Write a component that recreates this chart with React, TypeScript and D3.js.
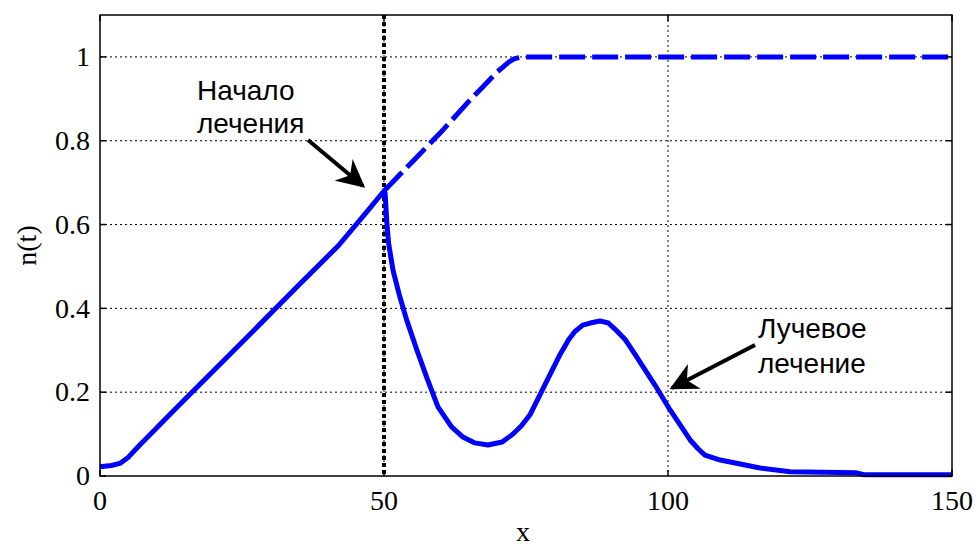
import React from "react";
import * as d3 from "d3";

// solid curve: n(t) with radiation treatment starting at x = 50
const xSolid = [0, 2, 3.5, 5, 7, 10, 14, 21, 28, 35, 42, 47, 50, 50.2, 50.5, 50.8, 51.6, 52.8, 54, 55.8, 57.7, 59.5, 61.9, 63.9, 66, 68.3, 70.8, 72.7, 74.2, 75.7, 78.3, 81, 82.5, 83.6, 85, 86.3, 88, 89.5, 90.7, 92.5, 94.2, 97.7, 100.4, 103.9, 105.3, 106.5, 109.2, 116.2, 121.5, 133, 134.5, 150];
const ySolid = [0.022, 0.025, 0.03, 0.045, 0.074, 0.115, 0.17, 0.265, 0.36, 0.456, 0.55, 0.631, 0.68, 0.675, 0.604, 0.556, 0.49, 0.427, 0.372, 0.3, 0.229, 0.165, 0.117, 0.093, 0.079, 0.074, 0.081, 0.1, 0.12, 0.146, 0.217, 0.29, 0.325, 0.345, 0.36, 0.365, 0.37, 0.365, 0.35, 0.325, 0.29, 0.217, 0.157, 0.086, 0.065, 0.05, 0.038, 0.019, 0.01, 0.008, 0.003, 0.003];

// dashed curve: untreated growth
const xDashed = [50, 55, 60, 65, 70, 72, 73, 74, 75, 80, 100, 150];
const yDashed = [0.68, 0.75, 0.82, 0.895, 0.965, 0.988, 0.996, 0.999, 1, 1, 1, 1];

const xTicks = [0, 50, 100, 150];
const yTicks = [0, 0.2, 0.4, 0.6, 0.8, 1];
const yTickLabels = ["0", "0.2", "0.4", "0.6", "0.8", "1"];
const treatStart = 50;

const SERIF = '"Liberation Serif"';
const SANS = '"Liberation Sans"';

const width = 978;
const height = 547;
const margin = { top: 15, right: 26, bottom: 71, left: 100 };
const w = width - margin.left - margin.right;
const h = height - margin.top - margin.bottom;

const App = () => {
  if (typeof document !== "undefined") document.body.style.margin = "0";

  const x = d3.scaleLinear().domain([0, 150]).range([0, w]);
  const y = d3.scaleLinear().domain([0, 1.1]).range([h, 0]);

  const solidPath = d3
    .line<number>()
    .x((d) => x(d))
    .y((d, i) => y(ySolid[i]))(xSolid) as string;
  const dashedPath = d3
    .line<number>()
    .x((d) => x(d))
    .y((d, i) => y(yDashed[i]))(xDashed) as string;

  const serifText = { fontFamily: SERIF, fontSize: "28px" };
  const sansText = { fontFamily: SANS, fontSize: "28px" };

  return (
    <svg width={width} height={height} style={{ display: "block" }}>
      <defs>
        <marker
          id="arrowhead"
          viewBox="0 0 10 10"
          refX={9}
          refY={5}
          markerWidth={7}
          markerHeight={7}
          markerUnits="strokeWidth"
          orient="auto"
        >
          <path d="M0,0 L10,5 L0,10 L3,5 Z" fill="#000" />
        </marker>
      </defs>
      <g transform={`translate(${margin.left}, ${margin.top})`}>
        {/* grid */}
        {yTicks.filter((d) => d > 0).map((d) => (
          <line key={"gy" + d} x1={0} x2={w} y1={y(d)} y2={y(d)} stroke="#000" strokeWidth={1} strokeDasharray="2,3" />
        ))}
        {xTicks.filter((d) => d > 0 && d < 150).map((d) => (
          <line key={"gx" + d} x1={x(d)} x2={x(d)} y1={0} y2={h} stroke="#000" strokeWidth={1} strokeDasharray="2,3" />
        ))}

        {/* start of treatment */}
        <line x1={x(treatStart)} x2={x(treatStart)} y1={0} y2={h} stroke="#000" strokeWidth={4} strokeDasharray="4,3" />

        <path d={dashedPath} fill="none" stroke="#0000ff" strokeWidth={5} strokeDasharray="26,7" />
        <path d={solidPath} fill="none" stroke="#0000ff" strokeWidth={5} strokeLinejoin="round" />

        {/* frame */}
        <rect width={w} height={h} fill="none" stroke="#000" strokeWidth={1.5} />

        {/* ticks */}
        {xTicks.map((d) => (
          <g key={"tx" + d} transform={`translate(${x(d)}, 0)`}>
            <line y1={h} y2={h - 6} stroke="#000" strokeWidth={1.5} />
            <line y1={0} y2={6} stroke="#000" strokeWidth={1.5} />
            <text y={h + 34} textAnchor="middle" style={serifText}>{d}</text>
          </g>
        ))}
        {yTicks.map((d, i) => (
          <g key={"ty" + d} transform={`translate(0, ${y(d)})`}>
            <line x1={0} x2={6} stroke="#000" strokeWidth={1.5} />
            <line x1={w} x2={w - 6} stroke="#000" strokeWidth={1.5} />
            <text x={-10} dy="0.33em" textAnchor="end" style={serifText}>{yTickLabels[i]}</text>
          </g>
        ))}

        {/* annotations */}
        <text x={97} y={85} style={sansText}>Начало</text>
        <text x={97} y={118} style={sansText}>лечения</text>
        <text x={658} y={323} style={sansText}>Лучевое</text>
        <text x={658} y={358} style={sansText}>лечение</text>
        <line x1={208} y1={125} x2={263} y2={171} stroke="#000" strokeWidth={4} markerEnd="url(#arrowhead)" />
        <line x1={655} y1={330} x2={572} y2={373} stroke="#000" strokeWidth={4} markerEnd="url(#arrowhead)" />
      </g>

      {/* axis labels */}
      <text x={margin.left + w / 2 - 3} y={541} textAnchor="middle" style={serifText}>x</text>
      <text transform={`translate(36, ${margin.top + h / 2}) rotate(-90)`} textAnchor="middle" style={serifText}>n(t)</text>
    </svg>
  );
};

export default App;
